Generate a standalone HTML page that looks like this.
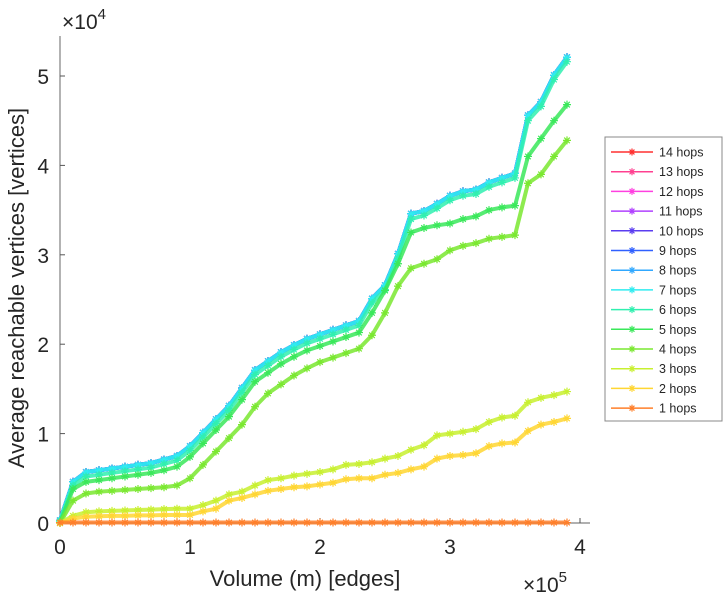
<!DOCTYPE html>
<html><head><meta charset="utf-8"><style>
body{margin:0;background:#fff;}
svg text{font-family:"Liberation Sans",sans-serif;fill:#262626;}
</style></head><body>
<svg id="chart" width="724" height="600" viewBox="0 0 724 600" xmlns="http://www.w3.org/2000/svg">
<g id="axes"></g>
<g id="series"></g>
<g id="legend"></g>
</svg>
<script>
// x in units of 1e5 edges, y values in thousands of vertices
const xValues=[0,0.1,0.2,0.3,0.4,0.5,0.6,0.7,0.8,0.9,1.0,1.1,1.2,1.3,1.4,1.5,1.6,1.7,1.8,1.9,2.0,2.1,2.2,2.3,2.4,2.5,2.6,2.7,2.8,2.9,3.0,3.1,3.2,3.3,3.4,3.5,3.6,3.7,3.8,3.9];
const hops1=[0.05,0.05,0.05,0.05,0.05,0.05,0.05,0.05,0.05,0.05,0.05,0.05,0.05,0.05,0.05,0.05,0.05,0.05,0.05,0.05,0.05,0.05,0.05,0.05,0.05,0.05,0.05,0.05,0.05,0.05,0.05,0.05,0.05,0.05,0.05,0.05,0.05,0.05,0.05,0.05];
const hops2=[0,0.5,0.7,0.75,0.8,0.8,0.85,0.85,0.9,0.9,0.9,1.3,1.6,2.5,2.8,3.2,3.6,3.8,4.0,4.1,4.3,4.5,4.9,5.0,5.0,5.4,5.6,6.0,6.3,7.2,7.5,7.6,7.8,8.6,8.9,9.0,10.3,11.0,11.3,11.7];
const hops3=[0,0.8,1.2,1.3,1.35,1.4,1.45,1.5,1.55,1.6,1.6,2.0,2.5,3.2,3.5,4.2,4.8,5.0,5.3,5.5,5.7,6.0,6.5,6.6,6.8,7.2,7.5,8.2,8.7,9.8,10.0,10.2,10.5,11.3,11.8,12.0,13.5,14.0,14.3,14.7];
const hops4=[0,2.5,3.3,3.5,3.6,3.7,3.8,3.9,4.0,4.2,5.0,6.5,8.0,9.5,11.0,13.0,14.5,15.5,16.5,17.3,18.0,18.5,19.0,19.5,21.0,23.5,26.5,28.5,29.0,29.5,30.5,31.0,31.3,31.8,32.0,32.2,38.0,39.0,41.0,42.8];
const hops5=[0,3.8,4.6,4.8,5.0,5.2,5.4,5.6,5.9,6.3,7.4,8.9,10.4,11.9,13.8,15.8,16.8,17.8,18.6,19.3,19.8,20.3,20.8,21.3,23.5,26.0,29.0,32.5,33.0,33.3,33.5,34.0,34.3,35.0,35.3,35.5,41.0,43.0,45.0,46.8];
const hops6=[0.2,4.2,5.2,5.4,5.6,5.8,6.0,6.2,6.6,7.0,8.1,9.6,11.1,12.6,14.6,16.6,17.6,18.6,19.4,20.1,20.6,21.1,21.6,22.1,24.6,26.1,29.6,34.0,34.4,35.2,36.1,36.6,36.8,37.6,38.1,38.6,45.0,46.6,49.6,51.6];
const hopsTop=[0.3,4.6,5.7,5.9,6.1,6.3,6.5,6.7,7.1,7.5,8.6,10.1,11.6,13.1,15.1,17.1,18.1,19.1,19.9,20.6,21.1,21.6,22.1,22.6,25.1,26.6,30.1,34.6,34.9,35.7,36.6,37.1,37.3,38.1,38.6,39.1,45.6,47.1,50.1,52.1];
const seriesNames=["1 hops","2 hops","3 hops","4 hops","5 hops","6 hops","7 hops","8 hops","9 hops","10 hops","11 hops","12 hops","13 hops","14 hops"];
const seriesData=[hops1,hops2,hops3,hops4,hops5,hops6,hopsTop,hopsTop,hopsTop,hopsTop,hopsTop,hopsTop,hopsTop,hopsTop];
const seriesColors=["#ff7f2a","#ffd633","#c8f030","#7ae830","#3ae85a","#30f0b0","#30ecf0","#30a8ff","#3060ff","#5a3cf0","#b040ff","#ff40e0","#ff4090","#ff3030"];
const xTicks=[0,1,2,3,4];
const yTicks=[0,1,2,3,4,5]; // units of 1e4

const NS="http://www.w3.org/2000/svg";
const X0=60,XS=130,Y0=523,YS=8.94;
const sx=v=>X0+v*XS, sy=v=>Y0-v*YS;
function mk(tag,attrs,parent,txt){const e=document.createElementNS(NS,tag);for(const k in attrs)e.setAttribute(k,attrs[k]);if(txt!==undefined)e.textContent=txt;parent.appendChild(e);return e;}
const axes=document.getElementById('axes');
let a=mk('line',{x1:X0,y1:36,x2:X0,y2:Y0,stroke:'#808080','stroke-width':1.2},axes);

a=mk('line',{x1:X0,y1:Y0,x2:590,y2:Y0,stroke:'#808080','stroke-width':1.2},axes);

xTicks.forEach(t=>{
 const tk=mk('line',{x1:sx(t),y1:Y0,x2:sx(t),y2:Y0-5,stroke:'#555'},axes);
 
 const l=mk('text',{x:sx(t),y:Y0+31,'font-size':21,'text-anchor':'middle'},axes,String(t));
 
});
yTicks.forEach(t=>{
 const yy=sy(t*10);
 const tk=mk('line',{x1:X0,y1:yy,x2:X0+5,y2:yy,stroke:'#555'},axes);
 
 const l=mk('text',{x:X0-11,y:yy+8,'font-size':21,'text-anchor':'end'},axes,String(t));
 
});
let t=mk('text',{x:62,y:29,'font-size':21},axes);

t.innerHTML='×10<tspan dy="-10" font-size="15">4</tspan>';
t=mk('text',{x:523,y:592,'font-size':21},axes);

t.innerHTML='×10<tspan dy="-10" font-size="15">5</tspan>';
t=mk('text',{x:305,y:586,'font-size':22,'text-anchor':'middle'},axes,'Volume (m) [edges]');

t=mk('text',{x:0,y:0,'font-size':22,'text-anchor':'middle',transform:'translate(24,288) rotate(-90)'},axes,'Average reachable vertices [vertices]');


const sg=document.getElementById('series');
function star(g,x,y,c,r){
 const d=`M${x-r},${y}H${x+r}M${x},${y-r}V${y+r}M${x-r*0.7},${y-r*0.7}L${x+r*0.7},${y+r*0.7}M${x-r*0.7},${y+r*0.7}L${x+r*0.7},${y-r*0.7}`;
 const p=mk('path',{d:d,stroke:c,'stroke-width':1.2,fill:'none'},g);
 
}
for(let i=seriesData.length-1;i>=0;i--){
 const vals=seriesData[i];
 const g=mk('g',{},sg);
 
 const pts=vals.map((v,j)=>sx(xValues[j])+','+sy(v)).join(' ');
 const pl=mk('polyline',{points:pts,fill:'none',stroke:seriesColors[i],'stroke-width':4,'stroke-linejoin':'round','stroke-opacity':0.85},g);
 
 vals.forEach((v,j)=>star(g,sx(xValues[j]),sy(v),seriesColors[i],4));
}

const lg=document.getElementById('legend');
const box=mk('rect',{x:605,y:137,width:117,height:284,fill:'#fff',stroke:'#888','stroke-width':1},lg);

for(let k=0;k<14;k++){
 const i=13-k, y=152+k*19.7;
 const g=mk('g',{},lg);
 
 mk('line',{x1:611,y1:y,x2:653,y2:y,stroke:seriesColors[i],'stroke-width':1.5},g);
 star(g,632,y,seriesColors[i],3.5);
 const lt=mk('text',{x:659,y:y+4.5,'font-size':12.5},g,seriesNames[i]);
 
}
</script>
</body></html>
